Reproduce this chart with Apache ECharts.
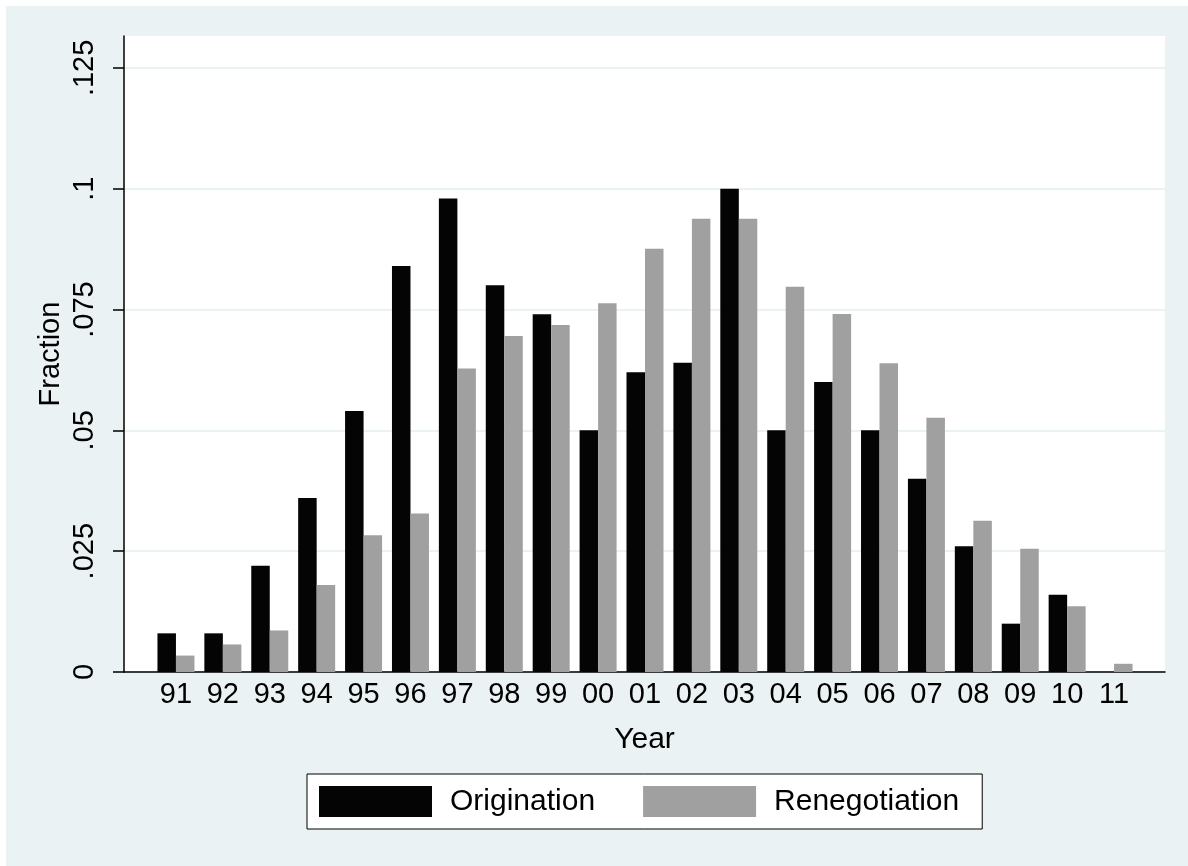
<!DOCTYPE html>
<html>
<head>
<meta charset="utf-8">
<script src="https://cdn.jsdelivr.net/npm/echarts@6/dist/echarts.min.js"></script>
<style>
  html, body { margin: 0; padding: 0; background: #ffffff; }
  #chart { position: absolute; left: 6px; top: 6px; width: 1182px; height: 860px; }
</style>
</head>
<body>
<div id="chart"></div>
<script>
var years = ['91', '92', '93', '94', '95', '96', '97', '98', '99', '00',
  '01', '02', '03', '04', '05', '06', '07', '08', '09', '10', '11'];
var origination = [0.008, 0.008, 0.022, 0.036, 0.054, 0.084, 0.098, 0.080, 0.074, 0.050,
  0.062, 0.064, 0.100, 0.050, 0.060, 0.050, 0.040, 0.026, 0.010, 0.016, 0];
var renegotiation = [0.0034, 0.0057, 0.0086, 0.018, 0.0283, 0.0328, 0.0628, 0.0695, 0.0718, 0.0763,
  0.0876, 0.0938, 0.0938, 0.0797, 0.0741, 0.0639, 0.0526, 0.0313, 0.0255, 0.0136, 0.0017];
var yTicks = [0, 0.025, 0.05, 0.075, 0.1, 0.125];

var FONT = 'Liberation Sans, Arial, Helvetica, sans-serif';
var Y_MAX = 0.1316;

// strip the leading zero like Stata does (.025, .1)
function stataNum(v) {
  if (v === 0) return '0';
  return String(+v.toFixed(3)).replace(/^0\./, '.');
}

var chart = echarts.init(document.getElementById('chart'), null, { renderer: 'canvas' });

chart.setOption({
  backgroundColor: '#eaf2f3',
  animation: false,
  textStyle: { fontFamily: FONT },
  grid: [
    // frame: axis lines, ticks, gridlines, titles
    { left: 118, right: 23, top: 30, bottom: 194, show: true, backgroundColor: '#ffffff', borderWidth: 0 },
    // bars: inset so the categories leave a gap at both ends
    { left: 146.5, right: 50.5, top: 30, bottom: 194 }
  ],
  legend: {
    data: ['Origination', 'Renegotiation'],
    left: 301,
    top: 768,
    orient: 'horizontal',
    icon: 'rect',
    itemWidth: 113,
    itemHeight: 31,
    itemGap: 48,
    padding: [12, 23, 12, 12],
    backgroundColor: '#ffffff',
    borderColor: '#000000',
    borderWidth: 1,
    textStyle: { fontSize: 30, color: '#000000', fontFamily: FONT, padding: [0, 0, 0, 13] }
  },
  xAxis: [
    {
      type: 'value', gridIndex: 0, min: 0, max: 1,
      axisLine: { show: true, onZero: false, lineStyle: { color: '#000000', width: 1.5 } },
      axisTick: { show: false },
      axisLabel: { show: false },
      splitLine: { show: false },
      name: 'Year',
      nameLocation: 'middle',
      nameGap: 53,
      nameMoveOverlap: false,
      nameTextStyle: { fontSize: 30, color: '#000000', fontFamily: FONT }
    },
    {
      type: 'category', gridIndex: 1, data: years,
      axisLine: { show: false },
      axisTick: { show: false },
      axisLabel: { fontSize: 29, color: '#000000', margin: 8, fontFamily: FONT, interval: 0 }
    }
  ],
  yAxis: [
    {
      type: 'value', gridIndex: 0, min: 0, max: Y_MAX, interval: 0.025,
      axisLine: { show: true, lineStyle: { color: '#000000', width: 1.5 } },
      axisTick: { show: true, length: 11, customValues: yTicks, lineStyle: { color: '#000000', width: 1.5 } },
      axisLabel: {
        customValues: yTicks, rotate: 90, margin: 25, fontSize: 29, color: '#000000', fontFamily: FONT,
        formatter: function (v) { return stataNum(v); }
      },
      splitLine: { show: true, lineStyle: { color: '#eaf2f3', width: 2 } },
      name: 'Fraction',
      nameLocation: 'middle',
      nameGap: 59,
      nameMoveOverlap: false,
      nameTextStyle: { fontSize: 29, color: '#000000', fontFamily: FONT }
    },
    {
      type: 'value', gridIndex: 1, min: 0, max: Y_MAX,
      axisLine: { show: false }, axisTick: { show: false },
      axisLabel: { show: false }, splitLine: { show: false }
    }
  ],
  series: [
    {
      name: 'Origination', type: 'bar', xAxisIndex: 1, yAxisIndex: 1,
      data: origination, barWidth: 18.5, barGap: '0%',
      itemStyle: { color: '#040404' }
    },
    {
      name: 'Renegotiation', type: 'bar', xAxisIndex: 1, yAxisIndex: 1,
      data: renegotiation, barWidth: 18.5, barGap: '0%',
      itemStyle: { color: '#a0a0a0' }
    }
  ]
});
</script>
</body>
</html>
